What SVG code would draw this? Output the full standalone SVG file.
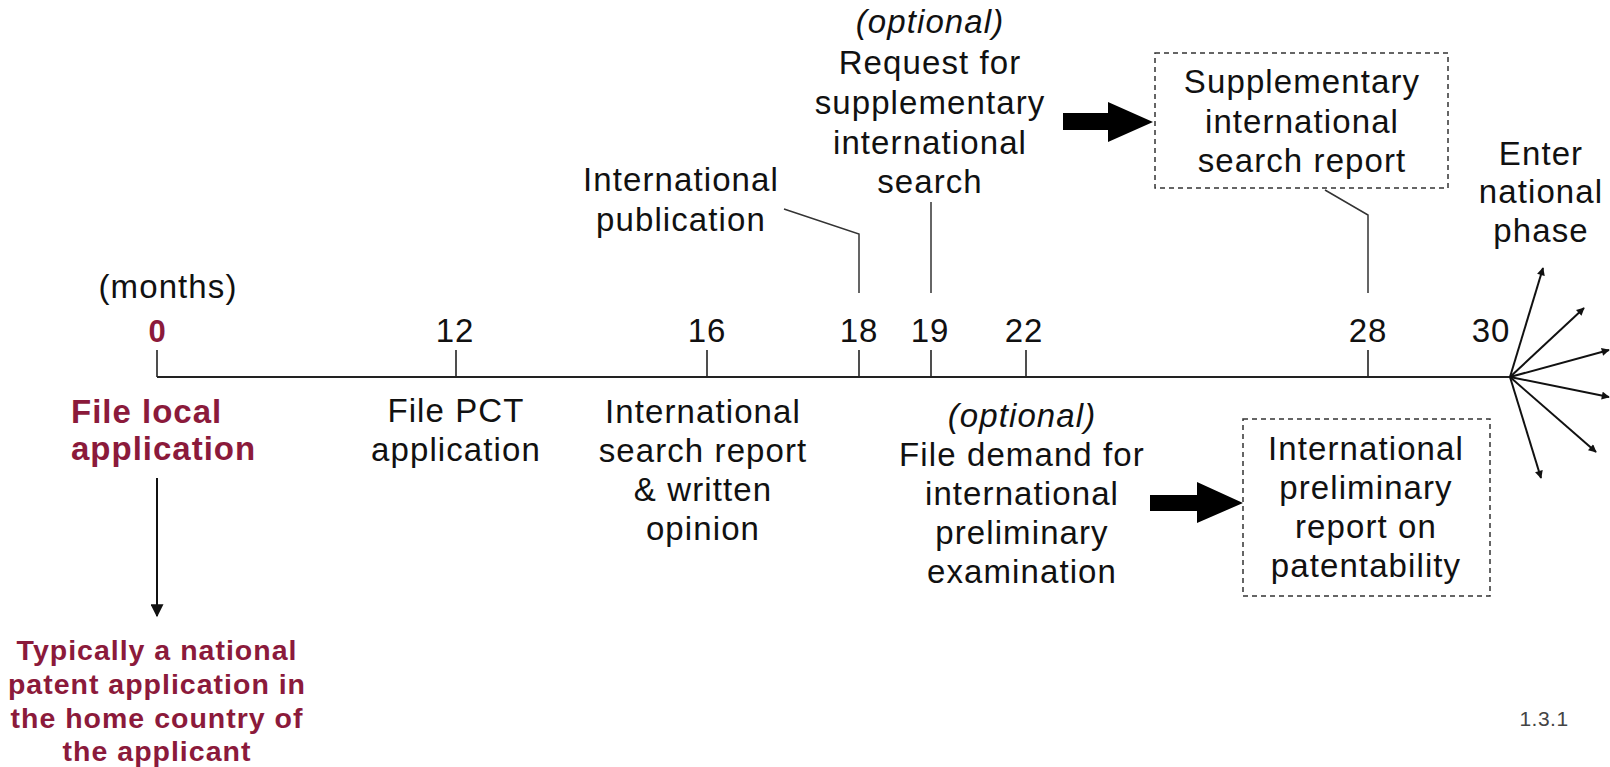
<svg xmlns="http://www.w3.org/2000/svg" width="1610" height="767" viewBox="0 0 1610 767">
<style>
text{font-family:"Liberation Sans",Arial,sans-serif;text-anchor:middle;fill:#111}
.t{font-size:33px;letter-spacing:1.1px}
.it{font-style:italic}
.red{fill:#8b1a3b;font-weight:bold}
.r1{font-size:33px;letter-spacing:1px;text-anchor:start}
.r2{font-size:28.5px;letter-spacing:1px}
.n{font-size:33px;letter-spacing:1px}
.axis{stroke:#222;stroke-width:2.2;fill:none}
.tick{stroke:#222;stroke-width:1.6;fill:none}
.lead{stroke:#333;stroke-width:1.5;fill:none}
.fan{stroke:#111;stroke-width:2;fill:none;marker-end:url(#ah)}
.box{fill:#fff;stroke:#333;stroke-width:1.5;stroke-dasharray:5 4}
.big{fill:#000}
.small{font-size:21px;fill:#444;letter-spacing:0.5px}
</style>
<defs>
<marker id="ah" viewBox="0 0 10 10" refX="9" refY="5" markerWidth="9" markerHeight="8" markerUnits="userSpaceOnUse" orient="auto">
<path d="M0,0 L10,5 L0,10 z" fill="#111"/>
</marker>
<marker id="ahd" viewBox="0 0 10 10" refX="9" refY="5" markerWidth="14" markerHeight="13" markerUnits="userSpaceOnUse" orient="auto">
<path d="M0,0 L10,5 L0,10 z" fill="#111"/>
</marker>
</defs>
<rect width="1610" height="767" fill="#fff"/>

<g id="connectors">
<line class="axis" x1="157" y1="377" x2="1510" y2="377"/>
<line class="tick" x1="157" y1="350" x2="157" y2="377"/>
<line class="tick" x1="456" y1="350" x2="456" y2="377"/>
<line class="tick" x1="707" y1="350" x2="707" y2="377"/>
<line class="tick" x1="859" y1="350" x2="859" y2="377"/>
<line class="tick" x1="931" y1="350" x2="931" y2="377"/>
<line class="tick" x1="1026" y1="350" x2="1026" y2="377"/>
<line class="tick" x1="1368" y1="350" x2="1368" y2="377"/>
<polyline class="lead" points="784,209 859,234 859,293"/>
<line class="lead" x1="931" y1="202" x2="931" y2="293"/>
<polyline class="lead" points="1325,190 1368,215 1368,293"/>
<line stroke="#111" stroke-width="2" x1="157" y1="478" x2="157" y2="616" marker-end="url(#ahd)"/>
<line class="fan" x1="1510" y1="377" x2="1543" y2="268"/>
<line class="fan" x1="1510" y1="377" x2="1584" y2="308"/>
<line class="fan" x1="1510" y1="377" x2="1609" y2="350"/>
<line class="fan" x1="1510" y1="377" x2="1609" y2="397"/>
<line class="fan" x1="1510" y1="377" x2="1596" y2="452"/>
<line class="fan" x1="1510" y1="377" x2="1541" y2="478"/>
<path class="big" d="M1063,113 H1108 V102 L1153,122 L1108,142 V130 H1063 Z"/>
<path class="big" d="M1150,495 H1197 V482 L1243,503 L1197,523 V511 H1150 Z"/>
</g>

<g id="scale">
<text class="t" x="168" y="298">(months)</text>
<text class="red" x="157" y="342" style="font-size:31px">0</text>
<text class="n" x="455" y="342">12</text>
<text class="n" x="707" y="342">16</text>
<text class="n" x="859" y="342">18</text>
<text class="n" x="930" y="342">19</text>
<text class="n" x="1024" y="342">22</text>
<text class="n" x="1368" y="342">28</text>
<text class="n" x="1491" y="342">30</text>
</g>

<g id="node-local">
<text class="red r1" x="71" y="423">File local</text>
<text class="red r1" x="71" y="460">application</text>
</g>

<g id="node-typically">
<text class="red r2" x="157" y="660">Typically a national</text>
<text class="red r2" x="157" y="694">patent application in</text>
<text class="red r2" x="157" y="728">the home country of</text>
<text class="red r2" x="157" y="761">the applicant</text>
</g>

<g id="node-pct">
<text class="t" x="456" y="422">File PCT</text>
<text class="t" x="456" y="461">application</text>
</g>

<g id="node-isr">
<text class="t" x="703" y="423">International</text>
<text class="t" x="703" y="462">search report</text>
<text class="t" x="703" y="501">&amp; written</text>
<text class="t" x="703" y="540">opinion</text>
</g>

<g id="node-publication">
<text class="t" x="681" y="191">International</text>
<text class="t" x="681" y="231">publication</text>
</g>

<g id="node-request">
<text class="t it" x="930" y="33">(optional)</text>
<text class="t" x="930" y="74">Request for</text>
<text class="t" x="930" y="114">supplementary</text>
<text class="t" x="930" y="154">international</text>
<text class="t" x="930" y="193">search</text>
</g>

<g id="node-sisr">
<rect class="box" x="1155" y="53" width="293" height="135"/>
<text class="t" x="1302" y="93">Supplementary</text>
<text class="t" x="1302" y="133">international</text>
<text class="t" x="1302" y="172">search report</text>
</g>

<g id="node-demand">
<text class="t it" x="1022" y="427">(optional)</text>
<text class="t" x="1022" y="466">File demand for</text>
<text class="t" x="1022" y="505">international</text>
<text class="t" x="1022" y="544">preliminary</text>
<text class="t" x="1022" y="583">examination</text>
</g>

<g id="node-iprp">
<rect class="box" x="1243" y="419" width="247" height="177"/>
<text class="t" x="1366" y="460">International</text>
<text class="t" x="1366" y="499">preliminary</text>
<text class="t" x="1366" y="538">report on</text>
<text class="t" x="1366" y="577">patentability</text>
</g>

<g id="node-national">
<text class="t" x="1541" y="165">Enter</text>
<text class="t" x="1541" y="203">national</text>
<text class="t" x="1541" y="242">phase</text>
</g>

<text class="small" x="1544" y="726">1.3.1</text>
</svg>
